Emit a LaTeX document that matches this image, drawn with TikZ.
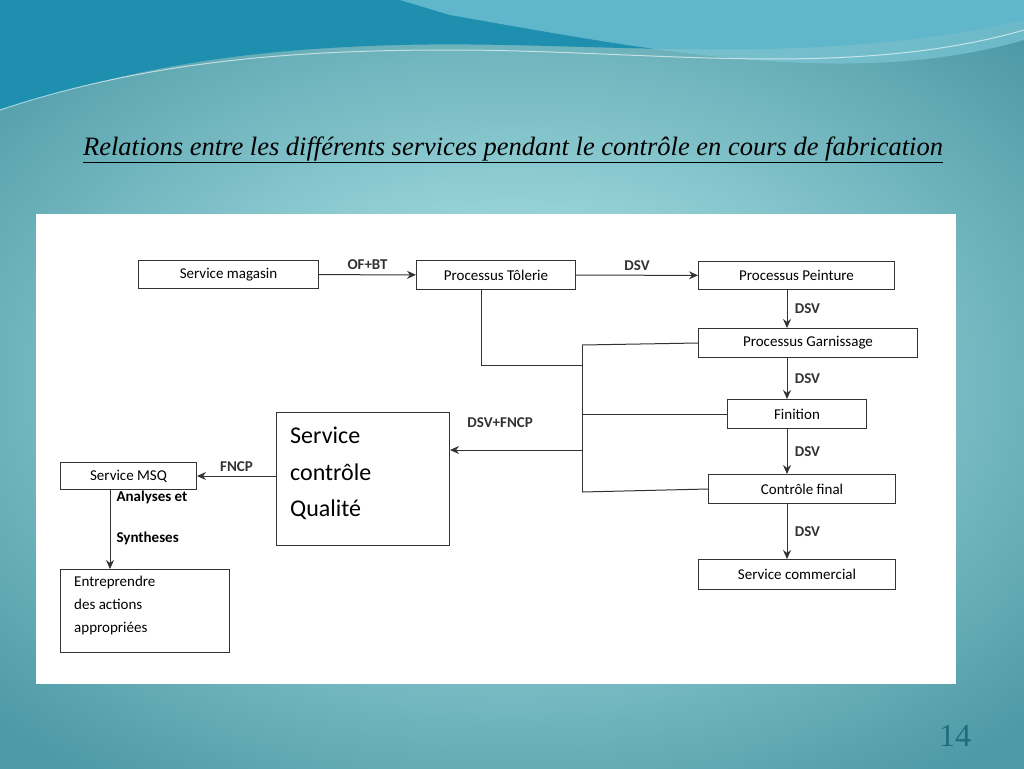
\documentclass[tikz,border=0pt]{standalone}
\usepackage{fontspec}
\setmainfont{Carlito}
\newfontfamily\titlefont{Liberation Serif}
\usetikzlibrary{arrows.meta}
\definecolor{bgA}{HTML}{4E9AA6}
\definecolor{bgB}{HTML}{BDF0F2}
\definecolor{waveA}{HTML}{1F8FB0}
\definecolor{waveB}{HTML}{7CC7D6}
\definecolor{pnum}{HTML}{1E6E80}
\tikzset{
  bx/.style={draw=black!80,line width=1pt,fill=white,anchor=north west,inner sep=0pt,font=\fontsize{15}{17}\selectfont},
  lbl/.style={font=\bfseries\fontsize{15}{17}\selectfont},
  ar/.style={-{Stealth[length=9pt,width=8pt]},line width=1pt,black!80},
  ln/.style={line width=1pt,black!80}
}
\begin{document}
\begin{tikzpicture}[x=1pt,y=-1pt]
\useasboundingbox (0,0) rectangle (1024,768);
\shade[inner color=bgB,outer color=bgA] (-200,-100) rectangle (1224,868);
\fill[waveA] (0,0) -- (1024,0) -- (1024,20) .. controls (800,70) and (600,40) .. (400,45) .. controls (200,50) and (100,80) .. (0,110) -- cycle;
\fill[waveB,opacity=0.7] (400,0) -- (1024,0) -- (1024,40) .. controls (850,90) and (650,50) .. (450,15) -- cycle;
\draw[white,opacity=0.6,line width=1pt] (0,110) .. controls (150,60) and (300,50) .. (450,50) .. controls (650,50) and (850,80) .. (1024,30);
\node[font=\titlefont\itshape\fontsize{26.5}{28}\selectfont,inner sep=0pt] (title) at (513,150) {\underline{Relations entre les différents services pendant le contrôle en cours de fabrication}};
\fill[white] (36,214) rectangle (956,684);
\node[bx,minimum width=180pt,minimum height=28pt] (mag) at (138,260) {Service magasin};
\node[bx,minimum width=159pt,minimum height=29pt] (tol) at (416,260) {Processus Tôlerie};
\node[bx,minimum width=196pt,minimum height=28pt] (pei) at (698,261) {Processus Peinture};
\node[bx,minimum width=219pt,minimum height=29pt] (gar) at (698,328) {Processus Garnissage};
\node[bx,minimum width=139pt,minimum height=29pt] (fin) at (727,399) {Finition};
\node[bx,minimum width=187pt,minimum height=29pt] (cf) at (708,474) {Contrôle final};
\node[bx,minimum width=197pt,minimum height=30pt] (com) at (698,559) {Service commercial};
\node[bx,minimum width=173pt,minimum height=133pt] (scq) at (276,412) {};
\node[anchor=north west,align=left,font=\fontsize{24}{36.5}\selectfont,inner sep=0pt] (scqt) at (290,427) {Service\\contrôle\\Qualité};
\node[bx,minimum width=136pt,minimum height=27pt] (msq) at (60,462) {Service MSQ};
\node[bx,minimum width=169pt,minimum height=83pt] (ent) at (60,569) {};
\node[anchor=north west,align=left,font=\fontsize{15}{23}\selectfont,inner sep=0pt] (entt) at (74,576) {Entreprendre\\des actions\\appropriées};
\draw[ar] (mag) -- (tol) node[lbl,midway,above=1pt] {OF+BT};
\draw[ar] (tol) -- (pei) node[lbl,midway,above=1pt] {DSV};
\draw[ar] (pei.south -| 787,0) -- (gar.north -| 787,0) node[lbl,midway,right=4pt] {DSV};
\draw[ar] (gar.south -| 787,0) -- (fin.north -| 787,0) node[lbl,midway,right=4pt] {DSV};
\draw[ar] (fin.south -| 787,0) -- (cf.north -| 787,0) node[lbl,midway,right=4pt] {DSV};
\draw[ar] (cf.south -| 787,0) -- (com.north -| 787,0) node[lbl,midway,right=4pt] {DSV};
\coordinate (j1) at (582,345);
\coordinate (j2) at (582,492);
\coordinate (ja) at (582,450);
\draw[ln] (tol.south -| 481,0) -- (481,365) -- (582,365);
\draw[ln] (j1) -- (j2);
\draw[ln] (gar.west) -- (j1);
\draw[ln] (fin.west) -- (fin.west -| j1);
\draw[ln] (cf.west) -- (j2);
\draw[ar] (ja) -- (ja -| scq.east) node[lbl,pos=0.62,above=19pt] {DSV+FNCP};
\draw[ar] (msq.east -| scq.west) -- (msq.east) node[lbl,midway,above=1pt] {FNCP};
\draw[ar] (msq.south -| 110,0) -- (ent.north -| 110,0);
\node[lbl,anchor=west] (an) at (113,497) {Analyses et};
\node[lbl,anchor=west] (sy) at (113,538) {Syntheses};
\node[font=\titlefont\fontsize{32}{34}\selectfont,text=pnum] (pg) at (955,736) {14};
\end{tikzpicture}
\end{document}
